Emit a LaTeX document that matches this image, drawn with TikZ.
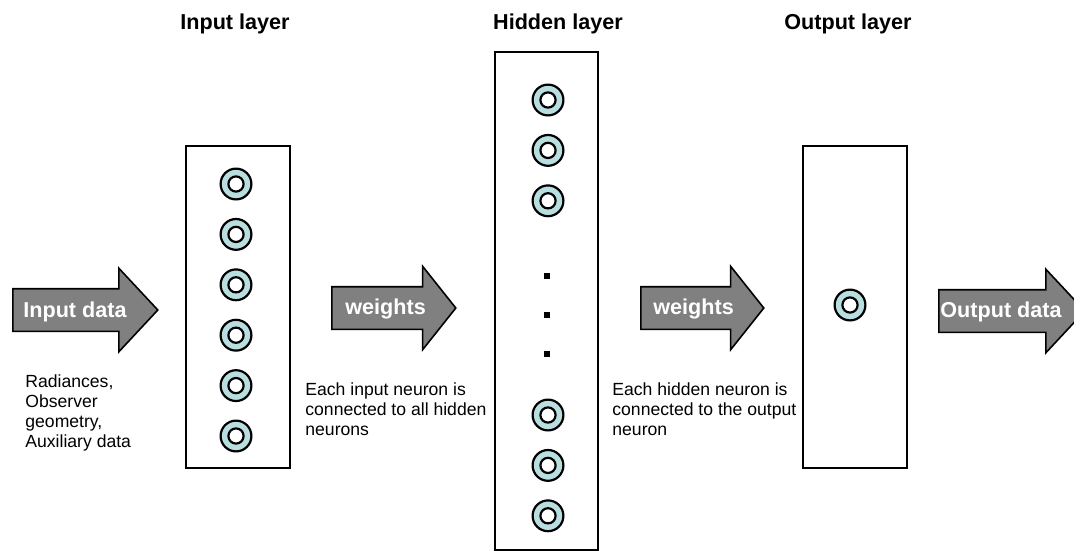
\documentclass[tikz,border=0pt]{standalone}
\usepackage{fontspec}
\setmainfont{Liberation Sans}
\usetikzlibrary{positioning,shapes.arrows}
\definecolor{ringblue}{HTML}{B9DEE0}
\definecolor{arrowgray}{HTML}{808080}

\begin{document}
\begin{tikzpicture}[x=0.5pt,y=-0.5pt,on grid,node distance=25.2pt,
  layer/.style={draw,line width=1.1pt,minimum width=52pt,inner sep=0pt},
  neuron/.style={circle,draw,line width=1.1pt,fill=ringblue,minimum size=15.4pt,inner sep=0pt,
    path picture={\draw[line width=1.1pt,fill=white] (path picture bounding box.center) circle (3.8pt);}},
  dot/.style={fill,minimum size=2.6pt,inner sep=0pt},
  flow/.style={single arrow,draw,fill=arrowgray,line width=0.8pt,inner xsep=0pt,inner ysep=10.25pt,
    single arrow head extend=10.25pt,anchor=tail},
  flowtext/.style={text=white,font=\fontsize{10.8}{13}\selectfont\bfseries,inner sep=0pt,anchor=base west},
  title/.style={font=\fontsize{10.8}{13}\selectfont\bfseries,inner sep=0pt,anchor=base},
  note/.style={font=\fontsize{8.8}{10}\selectfont,align=left,inner sep=0pt,anchor=base west}]
  \useasboundingbox (0,0) rectangle (1074,553);

  % layers
  \node[layer,minimum height=161pt] (inl) at (238,307) {};
  \node[layer,minimum height=249pt,minimum width=51.5pt] (hidl) at (546.5,301) {};
  \node[layer,minimum height=161pt] (outl) at (855,307) {};
  \node[title] (tin) at (235,29) {Input layer};
  \node[title] (thid) at (558,29) {Hidden layer};
  \node[title] (tout) at (848,29) {Output layer};

  % input neurons
  \node[neuron] (i1) at (236,184) {};
  \node[neuron] (i2) [below = of i1] {};
  \node[neuron] (i3) [below = of i2] {};
  \node[neuron] (i4) [below = of i3] {};
  \node[neuron] (i5) [below = of i4] {};
  \node[neuron] (i6) [below = of i5] {};

  % hidden neurons
  \node[neuron] (h1) at (548,100) {};
  \node[neuron] (h2) [below = of h1] {};
  \node[neuron] (h3) [below = of h2] {};
  \node[dot] (d1) at (547,276) {};
  \node[dot] (d2) at (547,315) {};
  \node[dot] (d3) at (547,354) {};
  \node[neuron] (h4) at (548,415) {};
  \node[neuron] (h5) [below = of h4] {};
  \node[neuron] (h6) [below = of h5] {};

  % output neuron
  \node[neuron] (o1) at (850,305) {};

  % block arrows
  \node[flow,minimum height=72.5pt,single arrow tip angle=94] (ain) at (12,310) {};
  \node[flow,minimum height=62pt,single arrow tip angle=103] (w1) at (331,308) {};
  \node[flow,minimum height=61.5pt,single arrow tip angle=103] (w2) at (640,308) {};
  \node[flow,minimum height=73pt,single arrow tip angle=94] (aout) at (938,311) {};
  \node[flowtext] (lin) at (23,317) {Input data};
  \node[flowtext] (lw1) at (345,314) {weights};
  \node[flowtext] (lw2) at (653,314) {weights};
  \node[flowtext] (lout) at (940,317) {Output data};

  % notes
  \node[note] (nin) at (25,447) {Radiances,\\Observer\\geometry,\\Auxiliary data};
  \node[note] (nw1) at (305,435) {Each input neuron is\\connected to all hidden\\neurons};
  \node[note] (nw2) at (612,435) {Each hidden neuron is\\connected to the output\\neuron};
\end{tikzpicture}
\end{document}
